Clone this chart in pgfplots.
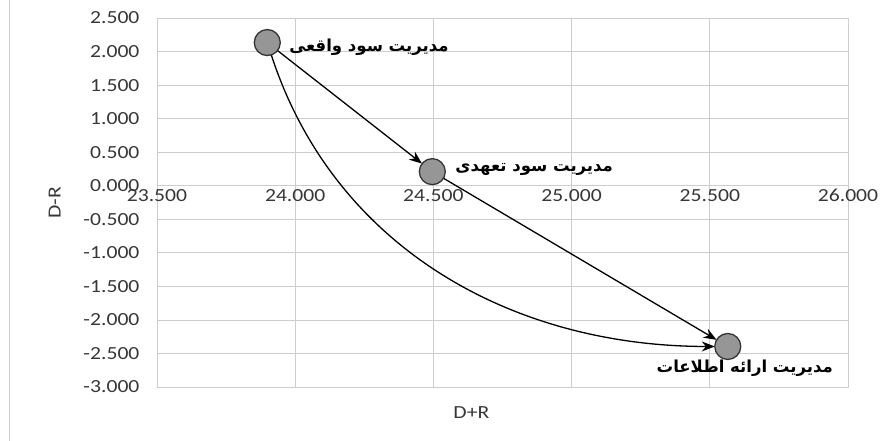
\documentclass[border=0pt]{standalone}
\usepackage{pgfplots}
\pgfplotsset{compat=1.18}
\usepackage{fontspec}
\setmainfont{Carlito}[FakeStretch=1.17]
\newfontfamily\arabicfont[Script=Arabic]{DejaVu Sans}
\TeXXeTstate=1
\usetikzlibrary{arrows.meta}
\definecolor{gridc}{RGB}{205,205,205}
\definecolor{txt}{RGB}{55,55,55}
\definecolor{ptfill}{RGB}{150,150,150}

\begin{document}
\begin{tikzpicture}[x=1pt,y=1pt]
\useasboundingbox (0,0) rectangle (893,441);
\draw[gray!40, line width=1pt] (9,0) -- (9,441);
\begin{axis}[
 at={(157pt,54pt)}, anchor=south west,
 scale only axis, width=691pt, height=369pt,
 xmin=23.5, xmax=26, ymin=-3, ymax=2.5,
 xtick={23.5,24,...,26}, ytick={-3,-2.5,...,2.5},
 grid=major, major grid style={gridc, line width=0.8pt},
 axis line style={gridc, line width=0.8pt},
 major tick length=0pt,
 ticklabel style={font=\fontsize{18.5}{20}\selectfont, text=txt},
 /pgf/number format/fixed, /pgf/number format/fixed zerofill,
 /pgf/number format/precision=3, /pgf/number format/assume math mode=true,
 xticklabel style={yshift=201.3pt},
 yticklabel style={xshift=-14pt},
 xlabel={D+R}, ylabel={D-R},
 label style={font=\fontsize{18.5}{20}\selectfont, text=txt},
 xlabel style={at={(axis description cs:0.455,-0.068)}, anchor=center},
 ylabel style={at={(axis description cs:-0.148,0.5)}, anchor=center},
 clip=false,
]
\addplot[black, line width=1.3pt, -{Stealth[length=13pt,width=10pt]}, shorten <=13pt, shorten >=13pt] coordinates {(23.899,2.134) (24.496,0.21)};
\addplot[black, line width=1.3pt, -{Stealth[length=13pt,width=10pt]}, shorten <=13pt, shorten >=13pt] coordinates {(24.496,0.21) (25.565,-2.396)};
\draw[black, line width=1.3pt, -{Stealth[length=13pt,width=10pt]}, shorten <=13pt, shorten >=13pt] (axis cs:23.899,2.134) to[out=-72,in=180] (axis cs:25.565,-2.396);
\addplot[only marks, mark=*, mark size=13pt, mark options={fill=ptfill, draw=black!80, line width=1.3pt}] coordinates {(23.899,2.134) (24.496,0.21) (25.565,-2.396)};
\node[anchor=west, inner sep=0pt, font=\arabicfont\bfseries\fontsize{16.5}{18}\selectfont, xshift=22pt, yshift=-5pt] at (axis cs:23.899,2.134) {\beginR مدیریت سود واقعی\endR};
\node[anchor=west, inner sep=0pt, font=\arabicfont\bfseries\fontsize{16.5}{18}\selectfont, xshift=23pt, yshift=2pt] at (axis cs:24.496,0.21) {\beginR مدیریت سود تعهدی\endR};
\node[anchor=center, inner sep=0pt, font=\arabicfont\bfseries\fontsize{16.5}{18}\selectfont, xshift=17pt, yshift=-22pt] at (axis cs:25.565,-2.396) {\beginR مدیریت ارائه اطلاعات\endR};
\end{axis}
\end{tikzpicture}
\end{document}
